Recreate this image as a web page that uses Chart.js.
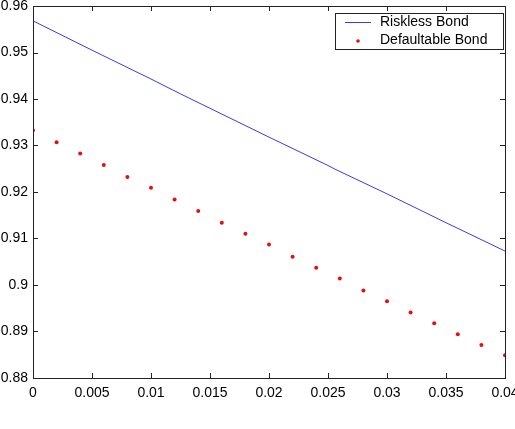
<!DOCTYPE html>
<html>
<head>
<meta charset="utf-8">
<script src="https://cdn.jsdelivr.net/npm/chart.js@4/dist/chart.umd.min.js"></script>
<style>
  html, body { margin: 0; padding: 0; background: #fff; }
  #wrap { width: 515px; height: 429px; }
</style>
</head>
<body>
<div id="wrap"><canvas id="myChart" width="515" height="429"></canvas></div>
<script>
// riskless bond curve
const risklessX = [0, 0.005, 0.01, 0.0125, 0.015, 0.02, 0.025, 0.0256, 0.03, 0.035, 0.04];
const risklessY = [0.9568, 0.9505, 0.9443, 0.9411, 0.9380, 0.9318, 0.9257, 0.9249, 0.9196, 0.9134, 0.9073];

// defaultable bond points
const defaultX = [0, 0.002, 0.004, 0.006, 0.008, 0.010, 0.012, 0.014, 0.016, 0.018, 0.020,
                  0.022, 0.024, 0.026, 0.028, 0.030, 0.032, 0.034, 0.036, 0.038, 0.040];
const defaultY = [0.9333, 0.9307, 0.9283, 0.9258, 0.9232, 0.9209, 0.9184, 0.9159, 0.9134, 0.9110, 0.9087,
                  0.9061, 0.9037, 0.9014, 0.8988, 0.8965, 0.8941, 0.8918, 0.8894, 0.8871, 0.8849];

const xTicks = [0, 0.005, 0.01, 0.015, 0.02, 0.025, 0.03, 0.035, 0.04];
const yTicks = [0.88, 0.89, 0.9, 0.91, 0.92, 0.93, 0.94, 0.95, 0.96];

const seriesNames = ['Riskless Bond', 'Defaultable Bond'];

const FAMILY = '"Liberation Sans", Arial, sans-serif';

// box, inward ticks and legend drawn like a matlab figure
const matlabBox = {
    id: 'matlabBox',
    afterDraw(chart) {
        const c = chart.ctx;
        const a = chart.chartArea;
        const xs = chart.scales.x, ys = chart.scales.y;
        c.save();
        c.strokeStyle = '#222';
        c.lineWidth = 1;
        c.strokeRect(Math.round(a.left) + 0.5, Math.round(a.top) + 0.5,
                     Math.round(a.right - a.left), Math.round(a.bottom - a.top));
        c.beginPath();
        xTicks.forEach(v => {
            const px = Math.round(xs.getPixelForValue(v)) + 0.5;
            c.moveTo(px, a.bottom); c.lineTo(px, a.bottom - 5);
            c.moveTo(px, a.top); c.lineTo(px, a.top + 5);
        });
        yTicks.forEach(v => {
            const py = Math.round(ys.getPixelForValue(v)) + 0.5;
            c.moveTo(a.left, py); c.lineTo(a.left + 5, py);
            c.moveTo(a.right, py); c.lineTo(a.right - 5, py);
        });
        c.stroke();

        // legend
        const lx = 335, ly = 13, lw = 168, lh = 36;
        c.fillStyle = '#fff';
        c.fillRect(lx, ly, lw, lh);
        c.strokeStyle = '#222';
        c.strokeRect(lx + 0.5, ly + 0.5, lw, lh);
        c.font = '14px ' + FAMILY;
        c.fillStyle = '#000';
        c.textBaseline = 'middle';
        c.fillText(seriesNames[0], 380, 22);
        c.fillText(seriesNames[1], 380, 40);
        c.strokeStyle = chart.data.datasets[0].borderColor;
        c.beginPath();
        c.moveTo(345, 22.5); c.lineTo(371, 22.5);
        c.stroke();
        c.fillStyle = chart.data.datasets[1].backgroundColor;
        c.beginPath();
        c.arc(358, 41, 1.8, 0, Math.PI * 2);
        c.fill();
        c.restore();
    }
};

const ctx = document.getElementById('myChart');
new Chart(ctx, {
    type: 'scatter',
    data: {
        datasets: [{
            label: seriesNames[0],
            data: risklessX.map((x, i) => ({ x: x, y: risklessY[i] })),
            showLine: true,
            borderColor: '#3a3ae6',
            borderWidth: 1,
            pointRadius: 0,
            tension: 0
        }, {
            label: seriesNames[1],
            data: defaultX.map((x, i) => ({ x: x, y: defaultY[i] })),
            showLine: false,
            backgroundColor: '#e01010',
            borderWidth: 0,
            pointRadius: 2
        }]
    },
    options: {
        responsive: false,
        animation: false,
        layout: { padding: { left: 0, right: 10, top: 6, bottom: 0 } },
        plugins: {
            legend: { display: false },
            tooltip: { enabled: false }
        },
        scales: {
            x: {
                type: 'linear',
                min: 0, max: 0.04,
                afterBuildTicks: s => { s.ticks = xTicks.map(v => ({ value: v })); },
                afterFit: s => { s.height = 51; s.paddingLeft = 0; s.paddingRight = 0; },
                grid: { display: false, drawTicks: false },
                border: { display: false },
                ticks: {
                    color: '#000',
                    font: { family: FAMILY, size: 14 },
                    padding: 7,
                    maxRotation: 0,
                    autoSkip: false,
                    callback: v => String(+v.toFixed(4))
                }
            },
            y: {
                type: 'linear',
                min: 0.88, max: 0.96,
                afterBuildTicks: s => { s.ticks = yTicks.map(v => ({ value: v })); },
                afterFit: s => { s.width = 33; s.paddingTop = 0; s.paddingBottom = 0; },
                grid: { display: false, drawTicks: false },
                border: { display: false },
                ticks: {
                    color: '#000',
                    font: { family: FAMILY, size: 14 },
                    padding: 5,
                    autoSkip: false,
                    callback: v => String(+v.toFixed(3))
                }
            }
        }
    },
    plugins: [matlabBox]
});
</script>
</body>
</html>
